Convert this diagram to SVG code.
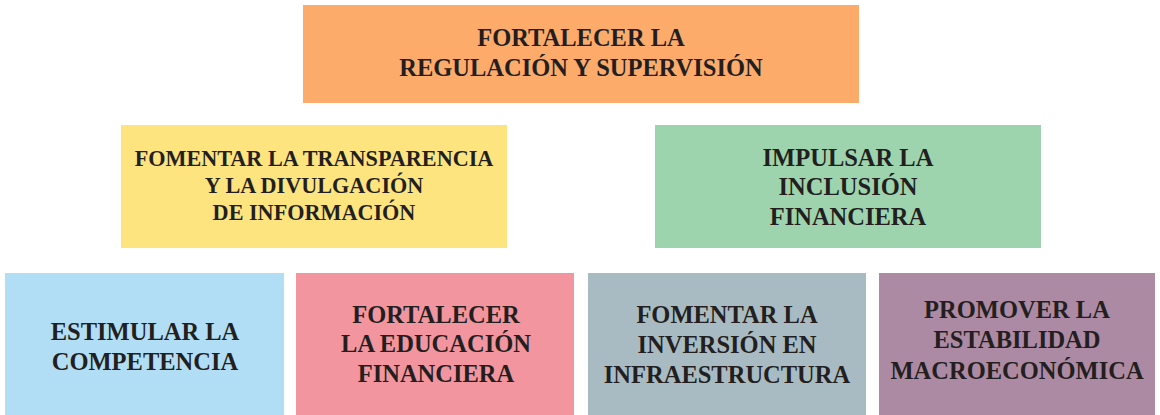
<svg xmlns="http://www.w3.org/2000/svg" width="1160" height="415" viewBox="0 0 1160 415">
<style>
text{font-weight:bold;fill:#231f20;text-anchor:middle}
.l{font-size:24.5px}
.m{font-size:22.2px}
</style>
<rect width="1160" height="415" fill="#ffffff"/>
<g id="connectors"></g>
<g font-family="'Liberation Serif', 'DejaVu Serif', serif">
<g id="n-top">
<rect x="303" y="5" width="556" height="98" fill="#fdab6b"/>
<text class="l" x="581" y="46">FORTALECER LA</text>
<text class="l" x="581" y="76">REGULACIÓN Y SUPERVISIÓN</text>
</g>
<g id="n-transparencia">
<rect x="121" y="125" width="386" height="123" fill="#fde47f"/>
<text class="m" x="314" y="166">FOMENTAR LA TRANSPARENCIA</text>
<text class="m" x="314" y="193">Y LA DIVULGACIÓN</text>
<text class="m" x="314" y="220">DE INFORMACIÓN</text>
</g>
<g id="n-inclusion">
<rect x="655" y="125" width="386" height="123" fill="#9dd4ae"/>
<text class="l" x="848" y="166">IMPULSAR LA</text>
<text class="l" x="848" y="195">INCLUSIÓN</text>
<text class="l" x="848" y="225">FINANCIERA</text>
</g>
<g id="n-competencia">
<rect x="5" y="273" width="279" height="142" fill="#b1def5"/>
<text class="l" x="145" y="340">ESTIMULAR LA</text>
<text class="l" x="145" y="370">COMPETENCIA</text>
</g>
<g id="n-educacion">
<rect x="296" y="273" width="278" height="142" fill="#f2959f"/>
<text class="l" x="436" y="323">FORTALECER</text>
<text class="l" x="436" y="352">LA EDUCACIÓN</text>
<text class="l" x="436" y="382">FINANCIERA</text>
</g>
<g id="n-infraestructura">
<rect x="588" y="273" width="278" height="142" fill="#a9bbc2"/>
<text class="l" x="727" y="323">FOMENTAR LA</text>
<text class="l" x="727" y="353">INVERSIÓN EN</text>
<text class="l" x="727" y="383">INFRAESTRUCTURA</text>
</g>
<g id="n-estabilidad">
<rect x="879" y="273" width="276" height="142" fill="#ad8aa3"/>
<text class="l" x="1017" y="318">PROMOVER LA</text>
<text class="l" x="1017" y="348">ESTABILIDAD</text>
<text class="l" x="1017" y="379">MACROECONÓMICA</text>
</g>
</g>
</svg>
